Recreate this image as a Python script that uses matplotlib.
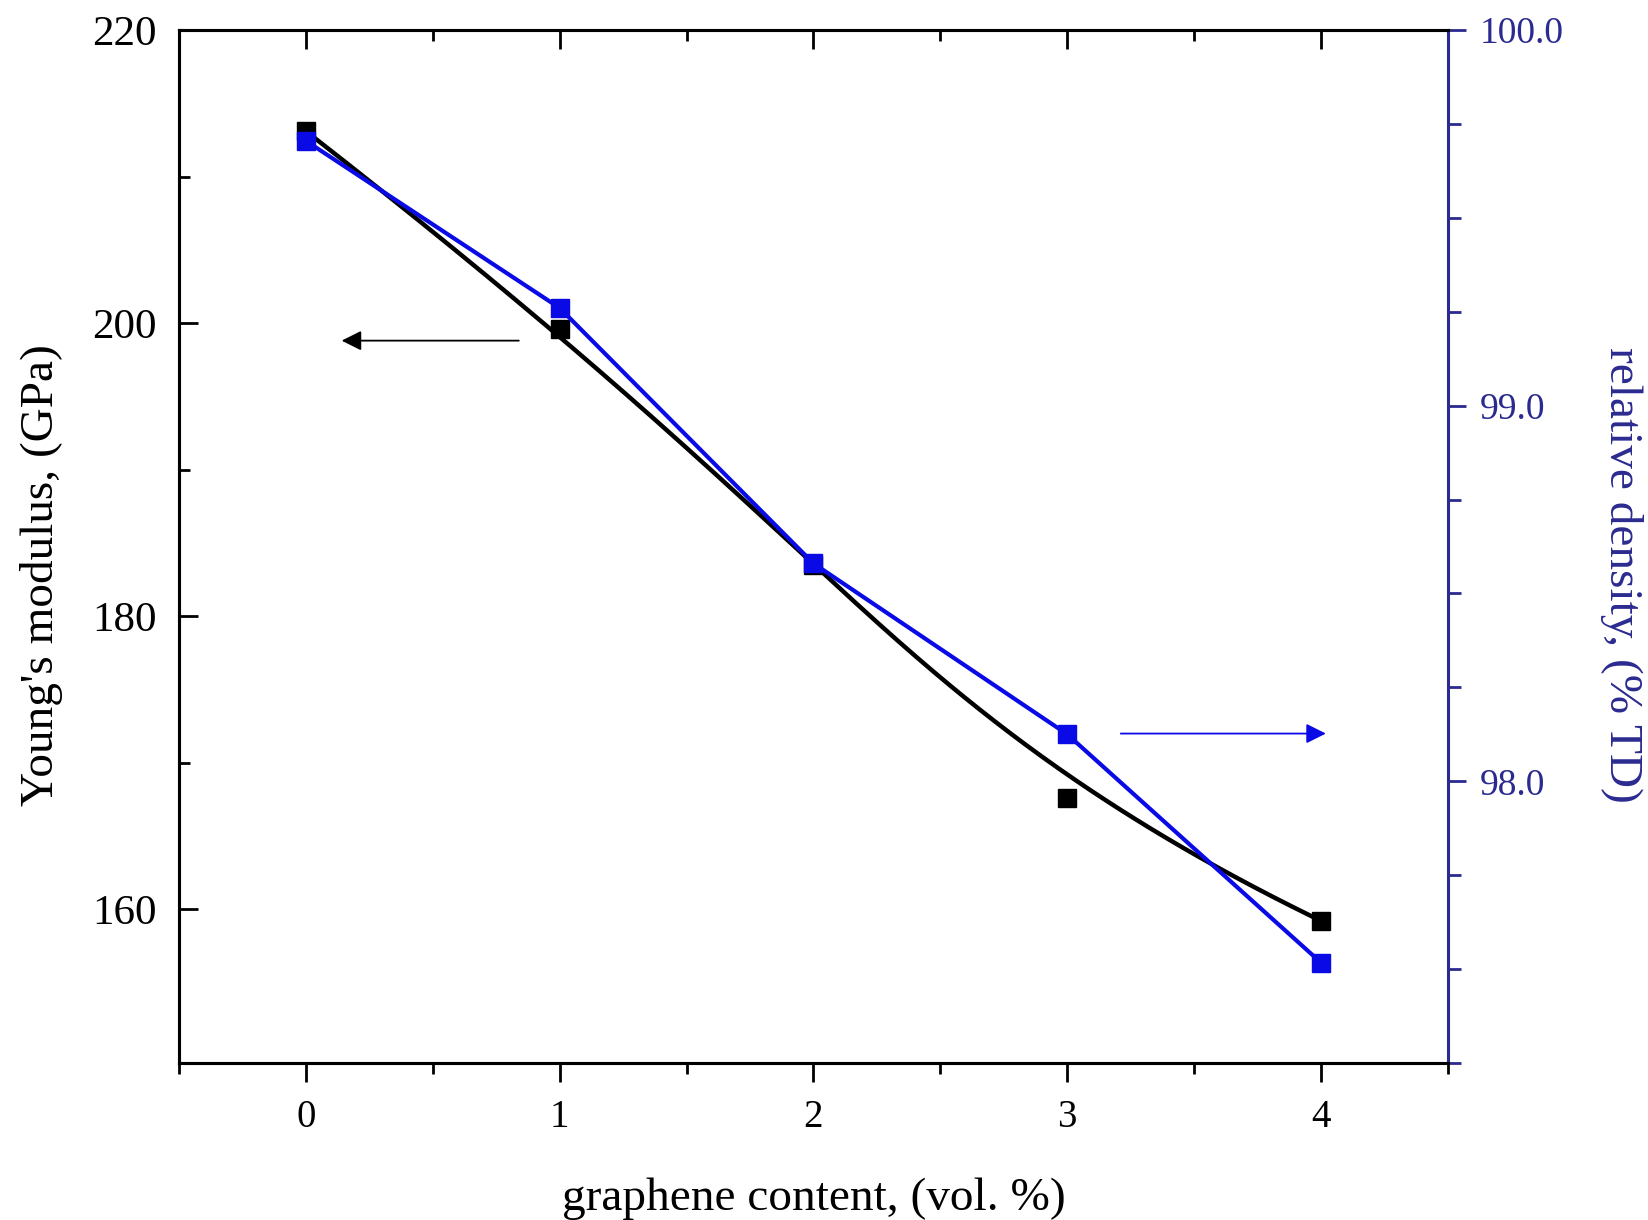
import numpy as np
from matplotlib import pyplot as plt

plt.rcParams['font.family'] = ['Liberation Serif', 'DejaVu Serif']

content = [0, 1, 2, 3, 4]
modulus = [213.1, 199.6, 183.5, 167.6, 159.2]
density = [99.705, 99.26, 98.58, 98.125, 97.517]

navy = '#2a2a90'
blue = '#0a0ae6'


def bspline(px, py, k=3, n=300):
    # clamped cubic B-spline using the data points as control points
    px = np.asarray(px, float)
    py = np.asarray(py, float)
    m = len(px)
    t = np.concatenate([[0] * k, np.linspace(0, 1, m - k + 1), [1] * k])
    u = np.linspace(0, 1, n)
    u[-1] -= 1e-9

    def basis(i, d):
        if d == 0:
            return ((t[i] <= u) & (u < t[i + 1])).astype(float)
        out = np.zeros_like(u)
        if t[i + d] > t[i]:
            out += (u - t[i]) / (t[i + d] - t[i]) * basis(i, d - 1)
        if t[i + d + 1] > t[i + 1]:
            out += (t[i + d + 1] - u) / (t[i + d + 1] - t[i + 1]) * basis(i + 1, d - 1)
        return out

    B = np.array([basis(i, k) for i in range(m)])
    return B.T @ px, B.T @ py


fig = plt.figure(figsize=(16.48, 12.20), dpi=100)
ax = fig.add_axes([0.1086, 0.1287, 0.77, 0.8467])
ax2 = ax.twinx()

bx, by = bspline(content, modulus)
ax.plot(bx, by, color='black', lw=3.2)
ax.plot(content, modulus, 's', color='black', ms=13)

ax2.plot(content, density, '-s', color=blue, lw=3, ms=13)

ax.set_xlim(-0.5, 4.5)
ax.set_ylim(149.5, 220)
ax2.set_ylim(97.25, 100.0)

ax.set_xticks([0, 1, 2, 3, 4])
ax.set_xticks([-0.5, 0.5, 1.5, 2.5, 3.5, 4.5], minor=True)
ax.set_yticks([160, 180, 200, 220])
ax.set_yticks([170, 190, 210], minor=True)
ax2.set_yticks([98.0, 99.0, 100.0])
ax2.set_yticks(np.arange(97.25, 100.0, 0.25), minor=True)
ax2.set_yticklabels(['98.0', '99.0', '100.0'])

ax.tick_params(axis='x', which='both', direction='out', top=True, labelsize=28, pad=12, width=2)
ax.tick_params(axis='x', which='major', length=14)
ax.tick_params(axis='x', which='minor', length=8)
ax.tick_params(axis='y', which='both', direction='in', labelsize=31, pad=16, width=2)
ax.tick_params(axis='y', which='major', length=14)
ax.tick_params(axis='y', which='minor', length=8)
# top ticks point inward
for t in ax.xaxis.get_major_ticks() + ax.xaxis.get_minor_ticks():
    t.tick2line.set_marker(3)

ax2.tick_params(axis='y', which='both', direction='out', colors=navy, labelsize=27, pad=10, width=2)
ax2.tick_params(axis='y', which='major', length=13)
ax2.tick_params(axis='y', which='minor', length=9)

for s in ax.spines.values():
    s.set_linewidth(2.2)
for s in ax2.spines.values():
    s.set_linewidth(2.2)
ax2.spines['right'].set_color(navy)
ax.spines['right'].set_visible(False)

ax.set_xlabel('graphene content, (vol. %)', fontsize=34, labelpad=30)
ax.set_ylabel("Young's modulus, (GPa)", fontsize=34, va='center')
ax.yaxis.set_label_coords(-0.108, 0.472)
ax2.set_ylabel('relative density, (% TD)', fontsize=34, color=navy, rotation=270, va='center')
ax2.yaxis.set_label_coords(1.137, 0.472)

# arrows pointing to the axis each series belongs to
ax.annotate('', xy=(0.13, 198.8), xytext=(0.85, 198.8),
            arrowprops=dict(arrowstyle='-|>', color='black', lw=1.3, mutation_scale=30))
ax2.annotate('', xy=(4.03, 98.127), xytext=(3.2, 98.127),
             arrowprops=dict(arrowstyle='-|>', color=blue, lw=1.3, mutation_scale=30))

fig.savefig('out.png', dpi=100)
